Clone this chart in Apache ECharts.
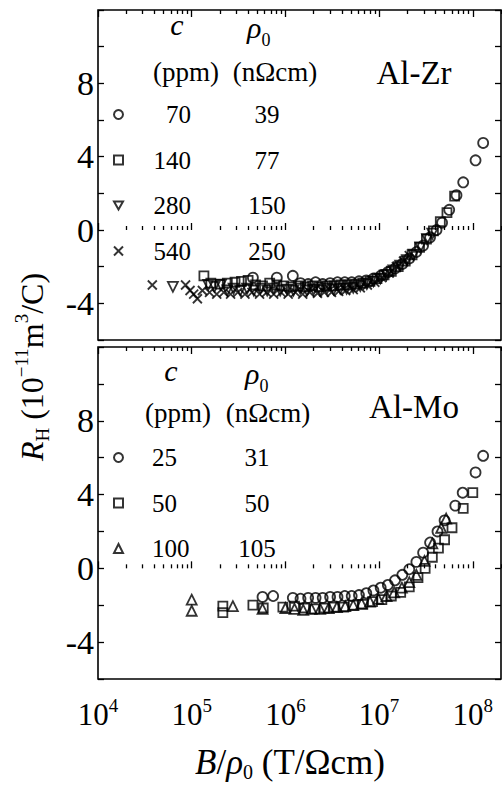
<!DOCTYPE html>
<html><head><meta charset="utf-8">
<script src="https://cdn.jsdelivr.net/npm/echarts@6/dist/echarts.min.js"></script>
<style>html,body{margin:0;padding:0;background:#fff}#c{width:502px;height:787px}</style>
</head><body><div id="c"></div>
<script>
// ---------- data: [B/rho0 (T/Ohm cm), R_H (1e-11 m^3/C)] ----------
const zr70 = [[4.5e5,-2.6],[8.1e5,-2.6],[1.2e6,-2.5],[1.45e6,-2.9],[1.75e6,-2.95],[2.1e6,-2.85],[2.5e6,-2.95],[3e6,-2.9],[3.6e6,-2.85],[4.3e6,-2.85],[5.1e6,-2.85],[6.1e6,-2.8],[7.3e6,-2.75],[8.7e6,-2.65],[1.04e7,-2.5],[1.24e7,-2.3],[1.48e7,-2.1],[1.77e7,-1.85],[2.1e7,-1.55],[2.5e7,-1.2],[2.95e7,-0.85],[3.5e7,-0.4],[4.1e7,0.0],[4.7e7,0.4],[5.6e7,1.1],[6.7e7,1.9],[7.9e7,2.6],[1.07e8,3.8],[1.29e8,4.75]];
const zr140 = [[1.35e5,-2.5],[1.6e5,-2.9],[2.0e5,-2.95],[2.4e5,-2.9],[2.9e5,-2.85],[3.4e5,-2.8],[4.0e5,-2.75],[4.8e5,-3.0],[5.7e5,-3.05],[6.8e5,-2.9],[8.1e5,-3.0],[9.6e5,-3.05],[1.15e6,-3.1],[1.37e6,-3.05],[1.63e6,-3.1],[1.95e6,-3.05],[2.3e6,-3.1],[2.75e6,-3.05],[3.3e6,-3.05],[3.9e6,-3.0],[4.7e6,-3.0],[5.6e6,-2.95],[6.7e6,-2.9],[8e6,-2.8],[9.5e6,-2.65],[1.13e7,-2.45],[1.35e7,-2.25],[1.6e7,-2.0],[1.9e7,-1.7],[2.25e7,-1.35],[2.7e7,-0.95],[3.2e7,-0.5],[3.8e7,-0.05],[4.5e7,0.45],[5.3e7,0.95],[6.4e7,1.85]];
const zr280 = [[6.3e4,-3.1],[1.5e5,-3.0],[1.75e5,-3.1],[2.05e5,-3.0],[2.4e5,-3.3],[2.8e5,-3.2],[3.3e5,-3.3],[3.9e5,-3.2],[4.6e5,-3.3],[5.4e5,-3.2],[6.4e5,-3.3],[7.5e5,-3.2],[8.8e5,-3.3],[1.04e6,-3.25],[1.22e6,-3.3],[1.44e6,-3.2],[1.7e6,-3.3],[2e6,-3.25],[2.35e6,-3.3],[2.77e6,-3.2],[3.27e6,-3.25],[3.85e6,-3.2],[4.5e6,-3.2],[5.3e6,-3.15],[6.3e6,-3.05],[7.4e6,-2.95],[8.7e6,-2.8],[1.03e7,-2.65],[1.2e7,-2.45],[1.42e7,-2.2],[1.68e7,-1.95],[1.98e7,-1.65],[2.33e7,-1.35],[2.75e7,-0.95],[3.25e7,-0.5],[3.7e7,-0.2]];
const zr540 = [[3.8e4,-3.0],[8.6e4,-3.0],[9.6e4,-3.3],[1.05e5,-3.5],[1.15e5,-3.75],[1.3e5,-3.3],[1.55e5,-3.4],[1.85e5,-3.5],[2.2e5,-3.4],[2.6e5,-3.5],[3.1e5,-3.4],[3.7e5,-3.5],[4.4e5,-3.4],[5.3e5,-3.5],[6.3e5,-3.4],[7.5e5,-3.5],[9e5,-3.4],[1.07e6,-3.5],[1.28e6,-3.4],[1.53e6,-3.5],[1.82e6,-3.4],[2.2e6,-3.45],[2.6e6,-3.4],[3.1e6,-3.4],[3.7e6,-3.35],[4.4e6,-3.3],[5.3e6,-3.25],[6.3e6,-3.15],[7.5e6,-3.0],[9e6,-2.85],[1.07e7,-2.6],[1.28e7,-2.35],[1.53e7,-2.0],[1.82e7,-1.7],[2.1e7,-1.4]];
const mo25 = [[5.7e5,-1.55],[7.4e5,-1.5],[1.2e6,-1.6],[1.45e6,-1.65],[1.75e6,-1.6],[2.1e6,-1.6],[2.5e6,-1.6],[3e6,-1.55],[3.6e6,-1.55],[4.3e6,-1.5],[5.1e6,-1.5],[6.1e6,-1.45],[7.3e6,-1.35],[8.7e6,-1.2],[1.04e7,-1.05],[1.24e7,-0.9],[1.48e7,-0.65],[1.77e7,-0.35],[2.1e7,-0.05],[2.5e7,0.35],[2.95e7,0.85],[3.5e7,1.4],[4.2e7,2.0],[5e7,2.6],[6.5e7,3.4],[7.8e7,4.1],[1.07e8,5.2],[1.29e8,6.1]];
const mo50 = [[2.15e5,-2.4],[2.15e5,-2.05],[4.5e5,-2.0],[5.8e5,-2.15],[9.4e5,-2.1],[1.25e6,-2.05],[1.6e6,-2.15],[2.05e6,-2.2],[2.6e6,-2.15],[3.3e6,-2.1],[4.2e6,-2.1],[5.3e6,-2.0],[6.7e6,-1.95],[8.5e6,-1.8],[1.07e7,-1.7],[1.35e7,-1.5],[1.7e7,-1.3],[2.1e7,-1.0],[2.6e7,-0.5],[3.1e7,0.0],[3.7e7,0.6],[4.3e7,1.1],[5e7,1.55],[6e7,2.2],[7.9e7,3.25],[1.0e8,4.1]];
const mo100 = [[1e5,-1.7],[1e5,-2.3],[2.75e5,-2.05],[5.7e5,-2.2],[1e6,-2.15],[1.25e6,-2.2],[1.55e6,-2.25],[1.9e6,-2.2],[2.35e6,-2.2],[2.9e6,-2.15],[3.55e6,-2.1],[4.35e6,-2.05],[5.3e6,-2.0],[6.5e6,-1.9],[8e6,-1.8],[9.8e6,-1.65],[1.2e7,-1.5],[1.45e7,-1.3],[1.75e7,-1.05],[2.1e7,-0.75],[2.5e7,-0.35],[3.05e7,0.4],[3.7e7,1.35],[4.6e7,2.2],[5.2e7,2.7]];

// legend table texts
const zrConc = ['70','140','280','540'];
const zrRho  = ['39','77','150','250'];
const moConc = ['25','50','100'];
const moRho  = ['31','50','105'];
// tick labels
const xMajor = [1e4,1e5,1e6,1e7,1e8];
const yLabels = [-4,0,4,8];
const minorMult = [2,3,4,5,6,7,8,9];

const xMinor = [];
xMajor.forEach(d => minorMult.forEach(m => { if (d*m <= 2e8) xMinor.push(d*m); }));

const F = 'Liberation Serif, Times New Roman, serif';
const BLACK = '#000';
const LFS = 25;            // legend font size
const DIG = LFS * 0.5;     // digit advance in a Times-metric font

function xAx(grid, pos, vals, len, labels) {
  return {
    type:'log', logBase:10, gridIndex:grid, position:pos, min:1e4, max:2e8,
    axisLine:{show:false}, splitLine:{show:false}, minorTick:{show:false},
    axisTick:{show:true, inside:true, length:len, customValues:vals, lineStyle:{color:BLACK, width:1.3}},
    axisLabel: labels ? {
      show:true, customValues:xMajor, margin:17, color:BLACK,
      formatter: v => '{b|10}{s|' + Math.round(Math.log10(v)) + '}',
      rich:{ b:{fontFamily:F, fontSize:31, color:BLACK, lineHeight:36},
             s:{fontFamily:F, fontSize:19, color:BLACK, lineHeight:16, verticalAlign:'top'} }
    } : {show:false}
  };
}
function yAx(grid, pos, labels) {
  return {
    type:'value', gridIndex:grid, position:pos, min:-6, max:12, interval:2,
    axisLine:{show:false}, splitLine:{show:false},
    axisTick:{show:true, inside:true, length:6, lineStyle:{color:BLACK, width:1.3}},
    axisLabel: labels ? {show:true, margin:4, fontFamily:F, fontSize:34, color:BLACK,
      formatter: v => (yLabels.indexOf(v) >= 0 ? String(v) : '')} : {show:false}
  };
}

const hollow = {color:'transparent', borderColor:BLACK, borderWidth:1.8};
const CROSS = 'path://M0,0L10,10M10,0L0,10';
const TRI_DOWN = 'path://M0,0L10,0L5,8.66Z';

function sc(name, data, xi, yi, symbol, size) {
  return {type:'scatter', name, data, xAxisIndex:xi, yAxisIndex:yi, symbol, symbolSize:size,
    itemStyle:Object.assign({}, hollow), emphasis:{disabled:true}, animation:false};
}

// Legend table layout: each row = two centred cells whose slot widths put
// column 1 right- (top) or left- (bottom) aligned and column 2 centred.
const TXT_START = 128;
function legendRich(conc, rho, col1Mode, col1Edge, col2Center) {
  const rich = {};
  conc.forEach((c, i) => {
    const w = c.length * DIG;
    const cA = col1Mode === 'right' ? col1Edge - w / 2 : col1Edge + w / 2;
    const sa = 2 * (cA - TXT_START);
    const sb = 2 * (col2Center - TXT_START - sa);
    rich['a' + i] = {fontFamily:F, fontSize:LFS, color:BLACK, width:sa, align:'center', lineHeight:26};
    rich['b' + i] = {fontFamily:F, fontSize:LFS, color:BLACK, width:sb, align:'center', lineHeight:26};
  });
  return rich;
}
const zrNames = ['Zr70','Zr140','Zr280','Zr540'];
const moNames = ['Mo25','Mo50','Mo100'];
const option = {
  animation:false,
  backgroundColor:'#fff',
  grid:[
    {left:98, right:1, top:10, height:330, show:true, borderColor:BLACK, borderWidth:1.6, containLabel:false},
    {left:98, right:1, top:347, height:332, show:true, borderColor:BLACK, borderWidth:1.6, containLabel:false}
  ],
  xAxis:[
    xAx(0,'bottom',xMajor,7,false), xAx(0,'bottom',xMinor,4,false),
    xAx(0,'top',xMajor,7,false),    xAx(0,'top',xMinor,4,false),
    xAx(1,'bottom',xMajor,7,true),  xAx(1,'bottom',xMinor,4,false),
    xAx(1,'top',xMajor,7,false),    xAx(1,'top',xMinor,4,false)
  ],
  yAxis:[ yAx(0,'left',true), yAx(0,'right',false), yAx(1,'left',true), yAx(1,'right',false) ],
  legend:[
    { data:zrNames, orient:'vertical', left:108, top:97, padding:5,
      itemWidth:9, itemHeight:9, itemGap:20.5, selectedMode:false,
      formatter: n => { const i = zrNames.indexOf(n); return '{a' + i + '|' + zrConc[i] + '}{b' + i + '|' + zrRho[i] + '}'; },
      textStyle:{fontFamily:F, fontSize:LFS, color:BLACK, rich:legendRich(zrConc, zrRho, 'right', 191, 267)} },
    { data:moNames, orient:'vertical', left:108, top:440, padding:5,
      itemWidth:9, itemHeight:9, itemGap:20.5, selectedMode:false,
      formatter: n => { const i = moNames.indexOf(n); return '{a' + i + '|' + moConc[i] + '}{b' + i + '|' + moRho[i] + '}'; },
      textStyle:{fontFamily:F, fontSize:LFS, color:BLACK, rich:legendRich(moConc, moRho, 'left', 152, 257)} }
  ],
  series:[
    sc('Zr70', zr70, 0, 0, 'circle', 10),
    sc('Zr140', zr140, 0, 0, 'rect', 9),
    sc('Zr280', zr280, 0, 0, TRI_DOWN, 10),
    sc('Zr540', zr540, 0, 0, CROSS, 9),
    sc('Mo25', mo25, 4, 2, 'circle', 10),
    sc('Mo50', mo50, 4, 2, 'rect', 9),
    sc('Mo100', mo100, 4, 2, 'triangle', 10)
  ],
  graphic:[]
};

function txt(text, x, y, size, align, extra) {
  const el = Object.assign({type:'text', silent:true, x:x, y:y}, extra && extra.el || {});
  el.style = Object.assign({
    text, x:0, y:0, fontFamily:F, fontSize:size, fill:BLACK,
    align:align, textAlign:align, verticalAlign:'middle', textVerticalAlign:'middle'
  }, extra && extra.style || {});
  return el;
}
function rhoHead(x, y) {
  return txt('{r|ρ}{z|0}', x, y, 30, 'left', {style:{rich:{
    r:{fontFamily:F, fontSize:30, fontStyle:'italic', fill:BLACK, lineHeight:44},
    z:{fontFamily:F, fontSize:18, fill:BLACK, lineHeight:14, verticalAlign:'bottom'}}}});
}
option.graphic = [
  txt('c', 177, 24, 30, 'center', {style:{fontStyle:'italic'}}),
  rhoHead(247, 27),
  txt('(ppm)', 186, 72, 27, 'center'),
  txt('(nΩcm)', 275, 72, 27, 'center'),
  txt('Al-Zr', 414, 73, 33, 'center'),
  txt('c', 171, 370, 30, 'center', {style:{fontStyle:'italic'}}),
  rhoHead(245, 373),
  txt('(ppm)', 178, 413, 27, 'center'),
  txt('(nΩcm)', 268, 413, 27, 'center'),
  txt('Al-Mo', 414, 407, 33, 'center'),
  txt('{i|B}{n|/}{i|ρ}{z|0}{n| (T/Ωcm)}', 290, 762, 35, 'center', {style:{rich:{
    i:{fontFamily:F, fontSize:35, fontStyle:'italic', fill:BLACK, lineHeight:40},
    n:{fontFamily:F, fontSize:35, fill:BLACK, lineHeight:40},
    z:{fontFamily:F, fontSize:20, fill:BLACK, lineHeight:12, verticalAlign:'bottom'}}}}),
  txt('{i|R}{z|H}{n| (10}{s|−11}{n|m}{s|3}{n|/C)}', 32, 367, 32, 'center', {el:{rotation:Math.PI/2}, style:{rich:{
    i:{fontFamily:F, fontSize:32, fontStyle:'italic', fill:BLACK, lineHeight:40},
    n:{fontFamily:F, fontSize:32, fill:BLACK, lineHeight:40},
    z:{fontFamily:F, fontSize:19, fill:BLACK, lineHeight:22, verticalAlign:'bottom'},
    s:{fontFamily:F, fontSize:19, fill:BLACK, lineHeight:26, verticalAlign:'top'}}}})
];

const chart = echarts.init(document.getElementById('c'), null, {renderer:'svg'});
chart.setOption(option);
</script></body></html>
